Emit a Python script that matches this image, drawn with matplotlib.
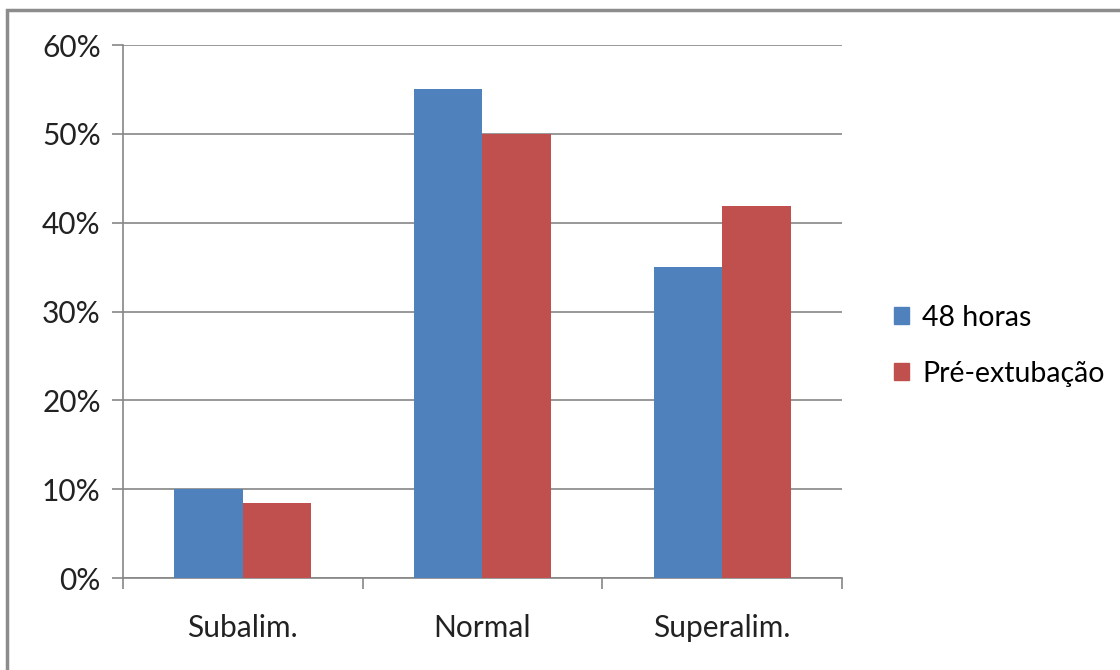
import matplotlib.pyplot as plt
from matplotlib.patches import Rectangle
from matplotlib.ticker import PercentFormatter
import numpy as np

plt.rcParams['font.family'] = ['Lato', 'DejaVu Sans']

categories = ['Subalim.', 'Normal', 'Superalim.']
horas_48 = [10.0, 55.0, 35.0]
pre_extubacao = [8.4, 50.0, 41.9]
series_labels = ['48 horas', 'Pré-extubação']
colors = ['#4F81BD', '#C0504D']
grid_color = '#868686'

fig = plt.figure(figsize=(11.2, 6.7), dpi=100)
ax = fig.add_axes([0.1098, 0.1373, 0.6420, 0.7955])

x = np.arange(len(categories))
w = 1 / 3.5
ax.bar(x - w / 2, horas_48, w, color=colors[0], zorder=3)
ax.bar(x + w / 2, pre_extubacao, w, color=colors[1], zorder=3)

ax.set_xlim(-0.5, len(categories) - 0.5)
ax.set_ylim(0, 60)
ax.set_yticks(np.arange(0, 61, 10))
ax.yaxis.set_major_formatter(PercentFormatter(decimals=0))
ax.yaxis.grid(True, color=grid_color, linewidth=1.2, zorder=0)

ax.set_xticks(x)
ax.set_xticklabels(categories)
ax.set_xticks(np.arange(-0.5, len(categories)), minor=True)
ax.tick_params(axis='x', which='major', length=0, pad=26, labelsize=21.5, colors='#222222')
ax.tick_params(axis='x', which='minor', length=8, width=1.2, color=grid_color)
ax.tick_params(axis='y', length=8, width=1.2, color=grid_color, labelsize=21.5,
               labelcolor='#222222', pad=8)

for s in ['top', 'right']:
    ax.spines[s].set_visible(False)
for s in ['left', 'bottom']:
    ax.spines[s].set_color(grid_color)
    ax.spines[s].set_linewidth(1.2)

handles = [Rectangle((0, 0), 1, 1, color=c) for c in colors]
fig.legend(handles, series_labels, loc='center left', bbox_to_anchor=(0.775, 0.484),
           frameon=False, fontsize=20.5, handlelength=0.55, handleheight=0.55,
           handletextpad=0.45, labelspacing=1.05)

# outer chart border
fig.add_artist(Rectangle((7 / 1120, -0.1), 1.2, 1 - 10 / 670 + 0.1,
                         transform=fig.transFigure, fill=False,
                         edgecolor='#8C8C8C', linewidth=2.5))

fig.savefig('out.png', dpi=100)
